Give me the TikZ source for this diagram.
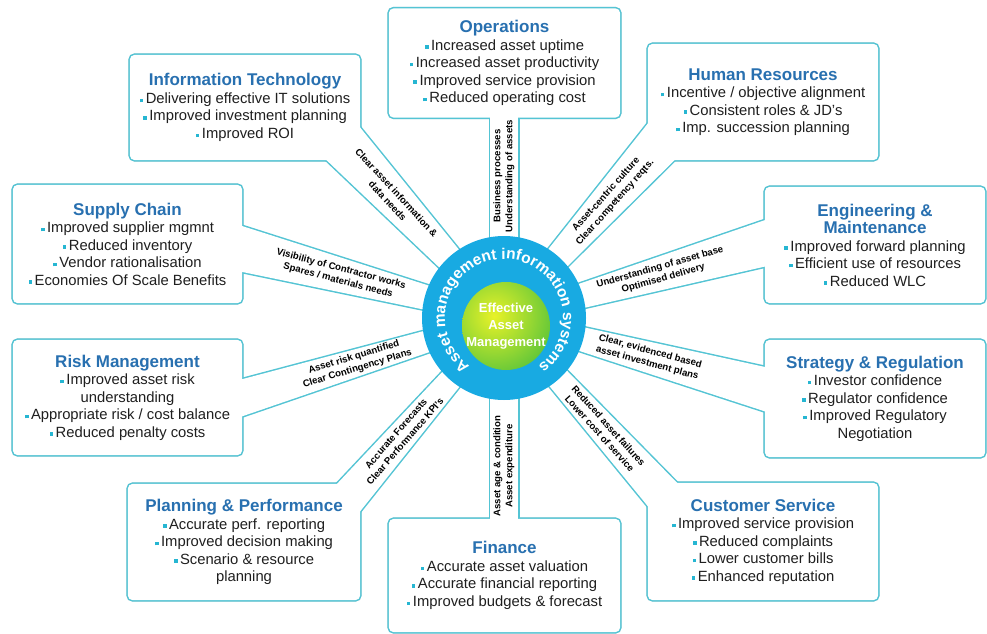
\documentclass[tikz,border=0pt]{standalone}
\usepackage{fontspec}
\setmainfont{Liberation Sans}
\usetikzlibrary{calc,decorations.text}
\definecolor{edgecyan}{RGB}{84,196,212}
\definecolor{titleblue}{RGB}{40,112,176}
\definecolor{ringblue}{RGB}{24,170,226}
\definecolor{bulcyan}{RGB}{38,182,210}
\definecolor{coregreen}{RGB}{72,190,60}
\definecolor{coreyellow}{RGB}{232,242,40}
\pgfdeclarelayer{background}
\pgfsetlayers{background,main}

\newcommand{\bul}{{\color{bulcyan}\rule[1.2pt]{3.6pt}{3.6pt}}\hspace{2.5pt}}
\newcommand{\hd}[1]{{\fontsize{17}{17.5}\selectfont\bfseries\color{titleblue}#1}}
\newcommand{\ringfont}{\fontsize{15.5}{15.5}\selectfont\bfseries}

\begin{document}
\begin{tikzpicture}[x=1pt, y=1pt,
  panel/.style={align=center, inner sep=0pt, text=black!88,
    font=\fontsize{14.8}{17.5}\selectfont},
  tag/.style={align=center, inner sep=0pt, font=\fontsize{9.6}{12}\selectfont\bfseries},
  core/.style={align=center, inner sep=0pt, text=white,
    font=\fontsize{13}{17}\selectfont\bfseries},
  outline/.style={draw=edgecyan, line width=3pt},
  blank/.style={fill=white, draw=none}]

\useasboundingbox (0,0) rectangle (987,633);
\coordinate (C) at (504,315);
\coordinate (K) at ($(C)+(2,-8)$);

% the ten panels
\node[panel, minimum width=231pt, minimum height=109pt] (ops) at (504.5,570)
  {\hd{Operations}\\ \bul Increased asset uptime\\ \bul Increased asset productivity\\
   \bul Improved service provision\\ \bul Reduced operating cost};
\node[panel, minimum width=230pt, minimum height=105pt] (itec) at (245,525.5)
  {\hd{Information Technology}\\ \bul Delivering effective IT solutions\\
   \bul Improved investment planning\\ \bul Improved ROI};
\node[panel, minimum width=230pt, minimum height=116pt] (hr) at (763,531)
  {\hd{Human Resources}\\ \bul Incentive / objective alignment\\
   \bul Consistent roles \& JD's\\ \bul Imp. succession planning};
\node[panel, minimum width=229pt, minimum height=118pt] (supply) at (127.5,389)
  {\hd{Supply Chain}\\ \bul Improved supplier mgmnt\\ \bul Reduced inventory\\
   \bul Vendor rationalisation\\ \bul Economies Of Scale Benefits};
\node[panel, minimum width=220pt, minimum height=116pt] (eng) at (875,388)
  {\hd{Engineering \&}\\ \hd{Maintenance}\\ \bul Improved forward planning\\
   \bul Efficient use of resources\\ \bul Reduced WLC};
\node[panel, minimum width=229pt, minimum height=115pt] (risk) at (127.5,235.5)
  {\hd{Risk Management}\\ \bul Improved asset risk\\ understanding\\
   \bul Appropriate risk / cost balance\\ \bul Reduced penalty costs};
\node[panel, minimum width=220pt, minimum height=117pt] (strat) at (875,234.5)
  {\hd{Strategy \& Regulation}\\ \bul Investor confidence\\ \bul Regulator confidence\\
   \bul Improved Regulatory\\ Negotiation};
\node[panel, minimum width=232pt, minimum height=116pt] (plan) at (244,91)
  {\hd{Planning \& Performance}\\ \bul Accurate perf. reporting\\
   \bul Improved decision making\\ \bul Scenario \& resource\\ planning};
\node[panel, minimum width=231pt, minimum height=113pt] (fin) at (504.5,57.5)
  {\hd{Finance}\\ \bul Accurate asset valuation\\ \bul Accurate financial reporting\\
   \bul Improved budgets \& forecast};
\node[panel, minimum width=230pt, minimum height=117pt] (cust) at (763,91.5)
  {\hd{Customer Service}\\ \bul Improved service provision\\ \bul Reduced complaints\\
   \bul Lower customer bills\\ \bul Enhanced reputation};

% spoke ends, one inside each panel
\foreach \nm/\ang/\len in {ops/90/223, itec/132.7/261, hr/48.2/267, supply/165.3/305,
    eng/15.9/303, risk/196.9/308, strat/-15.2/302, plan/229.1/268, fin/270/223,
    cust/-48.1/266}
  \coordinate (\nm-t) at ($(C)+(\ang:\len)$);

\begin{pgfonlayer}{background}
  % soft shadow under the panels
  \foreach \nm in {ops,itec,hr,supply,eng,risk,strat,plan,fin,cust}
    \draw[black!14, line width=3pt, rounded corners=5pt, shift={(1.2,-1.6)}]
      (\nm.south west) rectangle (\nm.north east);
  \foreach \sty in {outline,blank}{
    \foreach \nm in {ops,itec,hr,supply,eng,risk,strat,plan,fin,cust}
      \path[\sty, rounded corners=5pt] (\nm.south west) rectangle (\nm.north east);
    \foreach \nm/\a/\b in {ops/14pt/14pt, itec/8pt/25pt, hr/8pt/24pt, supply/8pt/24pt,
        eng/8pt/24pt, risk/8pt/19pt, strat/8pt/23pt, plan/8pt/19pt, fin/14pt/14pt,
        cust/8pt/20pt}
      \path[\sty] ($(C)!\a!90:(\nm-t)$) -- ($(\nm-t)!\b!-90:(C)$)
        -- ($(\nm-t)!\b!90:(C)$) -- ($(C)!\a!-90:(\nm-t)$) -- cycle;
  }
\end{pgfonlayer}

% hub
\fill[ringblue] (C) circle[radius=82];
\begin{scope}
  \clip (K) circle[radius=44];
  \shade[inner color=coreyellow, outer color=coregreen] ($(K)+(-12,10)$) circle[radius=72];
\end{scope}
\path[decorate, decoration={text along path, text align=center, text color=white,
    text={|\ringfont|Asset management information systems}}]
  ($(C)+(240:59)$) arc[start angle=240, end angle=-60, radius=59];
\node[core] (hub) at (K) {Effective\\Asset\\Management};

% spoke texts
\node[tag, rotate=90] (ops-l) at ($(C)+(90:142)$) {Business processes\\Understanding of assets};
\node[tag, rotate=-47.3] (itec-l) at ($(C)+(132.7:165)$) {Clear asset information \&\\data needs};
\node[tag, rotate=48.2] (hr-l) at ($(C)+(48.2:160)$) {Asset-centric culture\\Clear competency reqts.};
\node[tag, rotate=-14.7] (supply-l) at ($(C)+(165.3:170)$) {Visibility of Contractor works\\Spares / materials needs};
\node[tag, rotate=15.9] (eng-l) at ($(C)+(15.9:164)$) {Understanding of asset base\\Optimised delivery};
\node[tag, rotate=16.9] (risk-l) at ($(C)+(196.9:155)$) {Asset risk quantified\\Clear Contingency Plans};
\node[tag, rotate=-15.2] (strat-l) at ($(C)+(-15.2:150)$) {Clear, evidenced based\\asset investment plans};
\node[tag, rotate=49.1] (plan-l) at ($(C)+(229.1:158)$) {Accurate Forecasts\\Clear Performance KPI's};
\node[tag, rotate=90] (fin-l) at ($(C)+(270:148)$) {Asset age \& condition\\Asset expenditure};
\node[tag, rotate=-48.1] (cust-l) at ($(C)+(-48.1:150)$) {Reduced asset failures\\Lower cost of service};

\end{tikzpicture}
\end{document}
